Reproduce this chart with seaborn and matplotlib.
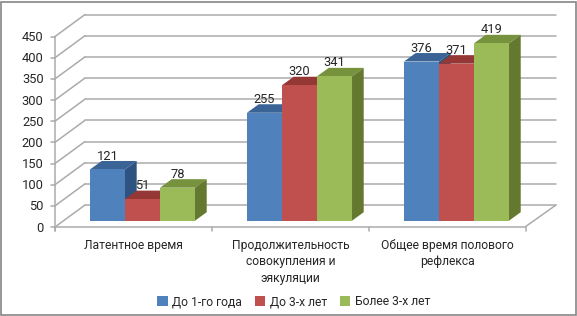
import pandas as pd
import seaborn as sns
from matplotlib import pyplot as plt
from matplotlib.patches import Polygon, Rectangle

categories = ["Латентное время",
              "Продолжительность\nсовокупления и\nэякуляции",
              "Общее время полового\nрефлекса"]
series_names = ["До 1-го года", "До 3-х лет", "Более 3-х лет"]
first_year = [121, 255, 376]
three_years = [51, 320, 371]
over_three = [78, 341, 419]
y_ticks = [0, 50, 100, 150, 200, 250, 300, 350, 400, 450]

front_colors = ["#4F81BD", "#C0504D", "#9BBB59"]
top_colors = ["#3A6496", "#953735", "#76923C"]
side_colors = ["#2F5380", "#7F2F2D", "#64792F"]
GRID = "#ABABAB"
TEXT = "#262626"

W, H = 577, 316
PX_X = 157.0     # pixels per category
PX_Y = 0.4233    # pixels per value
X0 = 142.5       # pixel of first category centre
Y0 = 220.7       # pixel of the bars' base


def px_x(px):
    return (px - X0) / PX_X


def px_y(px):
    return (Y0 - px) / PX_Y


sns.set_style("white")
plt.rcParams["font.family"] = ["Roboto", "DejaVu Sans"]
plt.rcParams["font.size"] = 9.3
LABEL_SIZE = 8.7

df = pd.DataFrame({
    "category": categories * 3,
    "series": [s for s in series_names for _ in categories],
    "value": first_year + three_years + over_three,
})

fig = plt.figure(figsize=(W / 100, H / 100), dpi=100)
ax = fig.add_axes([0, 0, 1, 1])
sns.barplot(data=df, x="category", y="value", hue="series", order=categories,
            hue_order=series_names, palette=front_colors, saturation=1,
            width=0.669, gap=0, ax=ax, errorbar=None, linewidth=0, edgecolor="none")
handles, labels = ax.get_legend_handles_labels()
ax.get_legend().remove()
ax.set_xlim(px_x(0), px_x(W))
ax.set_ylim(px_y(H), px_y(0))
ax.set_axis_off()

# walls and floor
back_l, back_r = px_x(85), px_x(556)
front_l, front_r = px_x(55), px_x(525)
for tick in y_ticks:
    back = tick + px_y(205)
    front = tick + px_y(227)
    ax.plot([back_l, back_r], [back, back], color=GRID, lw=1.1, zorder=1)
    ax.plot([front_l, back_l], [front, back], color=GRID, lw=1.1, zorder=1)
    ax.plot([px_x(51), front_l], [front, front], color=GRID, lw=1.1, zorder=1)
    ax.text(px_x(43.5), front + 1 / PX_Y * -1, str(tick), ha="right", va="center", color=TEXT)
floor = px_y(227)
ax.plot([front_l, front_r, back_r], [floor, floor, px_y(205)],
        color=GRID, lw=1.1, zorder=1)
ax.plot([front_l, front_l], [px_y(37), px_y(231)], color=GRID, lw=1.1, zorder=1)
for i in range(4):
    tick_x = px_x(55) + i
    ax.plot([tick_x, tick_x], [floor, px_y(231)], color=GRID, lw=1.1, zorder=1)

for i, label in enumerate(categories):
    ax.text(i - 0.057, px_y(239), label, ha="center", va="top", color=TEXT,
            linespacing=1.33, fontsize=LABEL_SIZE)

# depth of each column, taken from the bars seaborn drew
dx = 11.7 / PX_X
dy = 8.5 / PX_Y
for j, container in enumerate(ax.containers):
    for bar in container:
        left = bar.get_x()
        right = left + bar.get_width()
        top = bar.get_height()
        z = 3 + j * 3
        ax.add_patch(Polygon([(left, top), (right, top), (right + dx, top + dy), (left + dx, top + dy)],
                             facecolor=top_colors[j], edgecolor="none", zorder=z))
        ax.add_patch(Polygon([(right, 0), (right + dx, dy), (right + dx, top + dy), (right, top)],
                             facecolor=side_colors[j], edgecolor="none", zorder=z))
        bar.set_zorder(z + 1)
    ax.bar_label(container, padding=5, color=TEXT, zorder=30)

ax.legend(handles, labels, ncol=3, loc="center", frameon=False, fontsize=LABEL_SIZE,
          bbox_to_anchor=(293.5 / W, 1 - 301.5 / H), handlelength=0.9, handleheight=0.9,
          handletextpad=0.35, columnspacing=1.05, borderpad=0)

fig.add_artist(Rectangle((0.6 / W, 0.6 / H), (W - 1.2) / W, (H - 2.2) / H,
                         transform=fig.transFigure, fill=False,
                         edgecolor="#868686", lw=1.2))

plt.savefig("out.png", dpi=100)
